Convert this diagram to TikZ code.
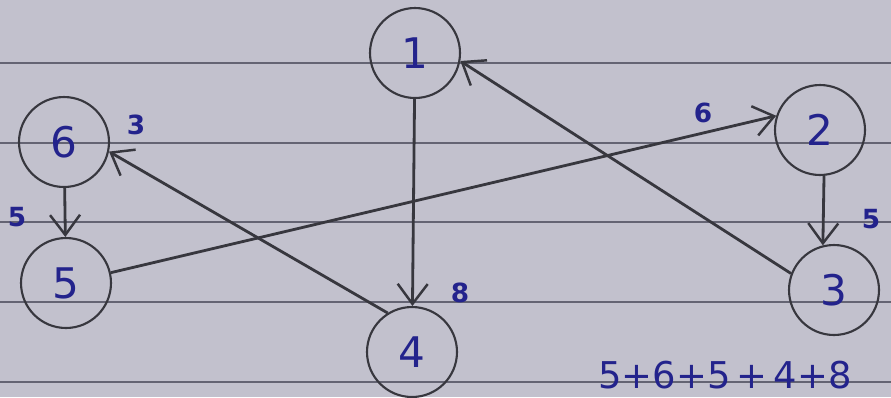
\documentclass[tikz,border=0pt]{standalone}
\usepackage{fontspec}
\setmainfont{DejaVu Sans}
\usetikzlibrary{arrows.meta}

\definecolor{paper}{RGB}{194,193,205}
\definecolor{rule}{RGB}{100,100,115}
\definecolor{pencil}{RGB}{55,55,62}
\definecolor{ink}{RGB}{35,35,140}

\tikzset{
	vertex/.style={circle,draw=pencil,line width=1.2pt,minimum size=1.8cm,inner sep=0pt,text=ink,font=\fontsize{24}{24}\selectfont},
	edge/.style={draw=pencil,line width=1.6pt,-{Straight Barb[length=4mm,width=6mm,line width=1.4pt]}},
	weight/.style={text=ink,font=\bfseries\fontsize{15}{15}\selectfont}
}

\begin{document}
\begin{tikzpicture}[x=0.02cm,y=-0.02cm]
				\useasboundingbox (0,0) rectangle (891,397);
				\fill[paper] (0,0) rectangle (891,397);
				\foreach \yy in {63,143,222,302,382}
					\draw[rule,line width=.7pt] (0,\yy) -- (891,\yy);

				\node[vertex] (n1) at (415,53) {1};
				\node[vertex] (n2) at (820,130) {2};
				\node[vertex] (n3) at (834,290) {3};
				\node[vertex] (n4) at (412,352) {4};
				\node[vertex] (n5) at (66,283) {5};
				\node[vertex] (n6) at (64,142) {6};

				\draw[edge] (n1) -- (n4);
				\draw[edge] (n3.159) -- (n1.-10);
				\draw[edge] (n4.122) -- (n6.-12);
				\draw[edge] (n5.13) -- (n2.162);
				\draw[edge] (n6) -- (n5);
				\draw[edge] (n2.-85) -- (n3.104);

				\node[weight] (w14) at (460,293) {8};
				\node[weight] (w46) at (136,125) {3};
				\node[weight] (w65) at (17,217) {5};
				\node[weight] (w52) at (703,113) {6};
				\node[weight] (w23) at (871,219) {5};

				\node[text=ink,anchor=west,inner sep=0pt,font=\fontsize{21}{21}\selectfont] (sum) at (598,375) {5+6+5\,+\,4+8};
			\end{tikzpicture}
\end{document}
